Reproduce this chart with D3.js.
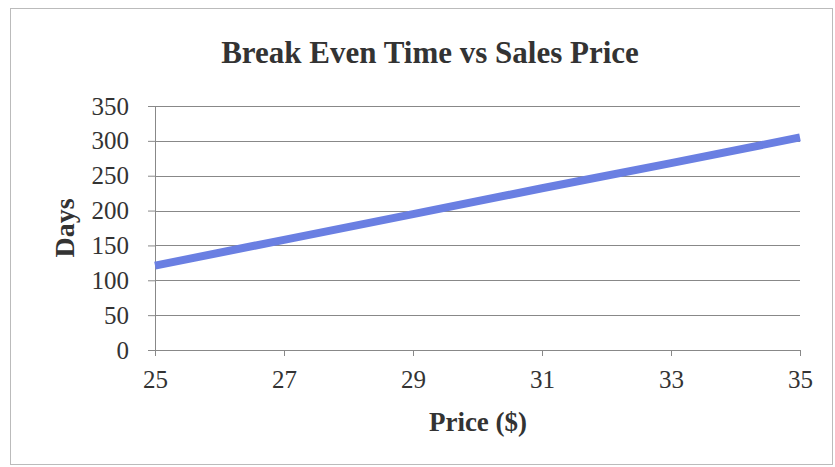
<!DOCTYPE html>
<html>
<head>
<meta charset="utf-8">
<script src="https://cdn.jsdelivr.net/npm/d3@7"></script>
<style>
  body { margin: 0; background: #fff; }
  svg text { font-family: "Liberation Serif", "DejaVu Serif", serif; fill: #333; }
</style>
</head>
<body>
<div id="chart"></div>
<script>
var prices = [25, 27, 29, 31, 33, 35];
var days = [121, 158, 195, 232, 268, 305];
var xTicks = [25, 27, 29, 31, 33, 35];
var yTicks = [0, 50, 100, 150, 200, 250, 300, 350];

var W = 835, H = 467;
var margin = {top: 106, right: 35, bottom: 117, left: 155};
var width = 800 - margin.left, height = 350 - margin.top;

var svg = d3.select("#chart").append("svg")
    .attr("width", W).attr("height", H);

// chart border
svg.append("rect")
    .attr("x", 10.5).attr("y", 8.5)
    .attr("width", 822).attr("height", 456)
    .attr("fill", "none").attr("stroke", "#bbb").attr("stroke-width", 1);

var g = svg.append("g").attr("transform", "translate(" + margin.left + "," + margin.top + ")");

var x = d3.scaleLinear().domain([25, 35]).range([0, width]);
var y = d3.scaleLinear().domain([0, 350]).range([height, 0]);

// gridlines
g.selectAll(".grid").data(yTicks).enter().append("line")
    .attr("x1", 0).attr("x2", width)
    .attr("y1", function(d) { return Math.round(y(d)) + 0.5; })
    .attr("y2", function(d) { return Math.round(y(d)) + 0.5; })
    .attr("stroke", "#888").attr("stroke-width", 1);

var yAxis = g.append("g")
    .call(d3.axisLeft(y).tickValues(yTicks).tickSize(7).tickPadding(19));
yAxis.select(".domain").attr("stroke", "#888");
yAxis.selectAll(".tick line").attr("stroke", "#888");
yAxis.selectAll("text").style("font-size", "25px").attr("fill", "#333");

var xAxis = g.append("g")
    .attr("transform", "translate(0," + height + ")")
    .call(d3.axisBottom(x).tickValues(xTicks).tickSize(6).tickPadding(14));
xAxis.select(".domain").attr("stroke", "#888");
xAxis.selectAll(".tick line").attr("stroke", "#888");
xAxis.selectAll("text").style("font-size", "25px").attr("fill", "#333");

var line = d3.line()
    .x(function(d, i) { return x(prices[i]); })
    .y(function(d) { return y(d); });

g.append("path")
    .datum(days)
    .attr("d", line)
    .attr("fill", "none")
    .attr("stroke", "#6a7fe2")
    .attr("stroke-width", 8);

// title
svg.append("text")
    .attr("x", 430).attr("y", 63)
    .attr("text-anchor", "middle")
    .style("font-size", "31px").style("font-weight", "bold")
    .text("Break Even Time vs Sales Price");

svg.append("text")
    .attr("x", 478).attr("y", 431)
    .attr("text-anchor", "middle")
    .style("font-size", "27px").style("font-weight", "bold")
    .text("Price ($)");

svg.append("text")
    .attr("transform", "translate(74,228) rotate(-90)")
    .attr("text-anchor", "middle")
    .style("font-size", "28px").style("font-weight", "bold")
    .text("Days");
</script>
</body>
</html>
